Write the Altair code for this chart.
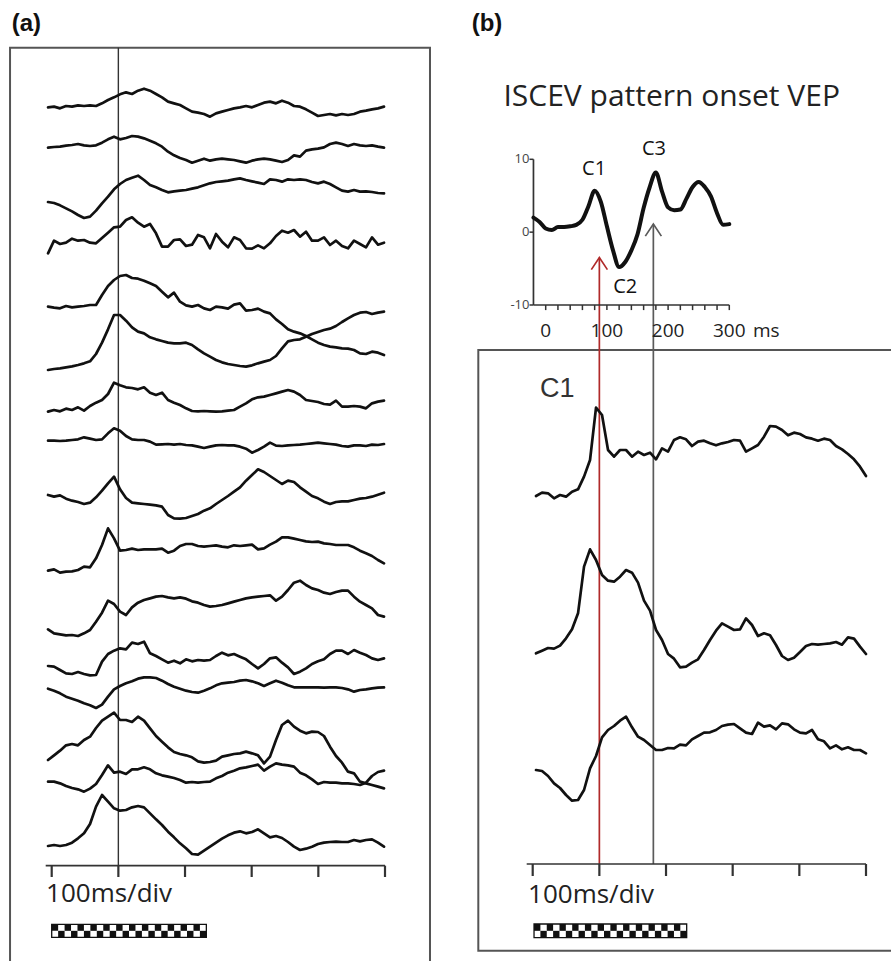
import altair as alt
import pandas as pd

W, H = 891, 961

# ---------------- panel (a): 16 single-session traces (a.u., +up) ----------------
A_TIME0, A_STEP = -5.5, 9.0          # ms, sampling grid of the traces
A_BASE = [321, 443, 605, 745, 920, 1110, 1235, 1322, 1485, 1712, 1888, 1995, 2065, 2285, 2345, 2540]
A1 = [-1, 1, -4, 3, 1, 5, 3, 5, 3, 11, 21, 29, 38, 44, 39, 49, 55, 49, 39, 29, 16, 11, 6, -4, -14, -17, -21, -29, -19, -14,
      -9, -4, -1, 3, -1, 6, 13, 16, 11, 19, 13, 3, 1, -7, -17, -27, -24, -21, -25, -21, -24, -21, -14, -11, -7, -4, 1]
A2 = [0, 2, 3, 6, 8, 11, 7, 5, 7, 15, 25, 33, 25, 29, 35, 33, 28, 21, 13, 3, -12, -23, -31, -37, -45, -39, -33, -39, -35, -33,
      -35, -37, -41, -45, -39, -35, -33, -35, -39, -43, -37, -23, -27, -9, -5, -3, 1, 11, 15, 11, 5, 11, 7, 5, 7, 3, 0]
A3 = [-1, -4, -11, -20, -29, -40, -49, -45, -27, -5, 15, 37, 53, 65, 72, 78, 65, 50, 43, 35, 28, 31, 33, 35, 39, 43, 49, 55, 59, 61,
      63, 67, 70, 65, 61, 57, 53, 67, 65, 60, 67, 65, 67, 65, 59, 55, 60, 53, 43, 33, 30, 35, 30, 31, 29, 26, 25]
A4 = [-15, 23, 13, 17, 29, 23, 25, 17, 15, 31, 47, 63, 65, 85, 93, 77, 65, 73, 45, 5, 5, 25, 27, 7, 11, 40, 33, 0, 43, 20,
      3, 33, 25, 0, -1, 9, 0, 15, 37, 53, 47, 55, 35, 50, 23, 23, 33, 10, 23, 7, 0, 23, 13, 3, 33, 11, 17]
A5 = [0, -3, -5, 2, -2, 0, 2, 5, 5, 35, 62, 80, 92, 95, 86, 84, 78, 70, 62, 45, 28, 42, 15, 4, 0, 5, -5, -10, 0, -2,
      -6, 6, 10, -12, -10, -6, -15, -20, -38, -52, -68, -75, -80, -88, -98, -108, -115, -120, -122, -125, -126, -130, -140, -142, -135, -138, -145]
A6 = [0, 3, 5, 8, 11, 15, 20, 26, 48, 82, 122, 165, 165, 148, 128, 115, 110, 98, 92, 87, 82, 80, 80, 82, 75, 62, 50, 40, 30, 23,
      18, 15, 12, 10, 14, 20, 25, 30, 42, 65, 86, 90, 92, 100, 108, 114, 120, 124, 132, 144, 155, 165, 172, 174, 168, 172, 175]
A7 = [0, 5, 1, 9, 5, 13, 3, 17, 27, 35, 53, 87, 79, 73, 71, 67, 73, 57, 50, 57, 35, 27, 20, 10, 2, 1, 2, 1, 0, 1,
      3, 5, 15, 25, 37, 43, 45, 50, 55, 60, 65, 60, 50, 35, 32, 29, 23, 21, 33, 15, 15, 17, 15, 10, 25, 30, 33]
A8 = [0, 0, -1, 0, 2, 4, 10, 6, 2, 4, 22, 37, 30, 14, 4, 2, 2, -3, -12, -11, -10, -12, -10, -13, -14, -18, -22, -18, -14, -13,
      -14, -14, -18, -24, -36, -28, -18, -6, -15, -16, -14, -13, -12, -10, -8, -6, -8, -10, -12, -16, -18, -14, -14, -16, -12, -13, -10]
A9 = [0, -5, -1, -11, -17, -21, -27, -23, -7, 13, 35, 55, 17, -9, -23, -25, -27, -29, -31, -35, -60, -70, -71, -69, -63, -57, -47, -40, -27, -15,
      -3, 10, 23, 43, 60, 77, 69, 57, 45, 33, 43, 39, 23, 10, -3, -10, -20, -27, -21, -19, -19, -15, -11, -9, -5, 1, 7]
A10 = [0, 4, -6, -3, -2, 2, 12, 10, 37, 77, 127, 97, 60, 62, 66, 62, 64, 64, 64, 66, 54, 60, 74, 80, 80, 74, 72, 74, 76, 72,
       70, 76, 74, 76, 78, 64, 67, 78, 87, 100, 100, 96, 92, 88, 86, 87, 82, 80, 77, 77, 77, 70, 60, 52, 44, 32, 22]
A11 = [0, -12, -15, -18, -17, -20, -12, -2, 23, 50, 86, 76, 53, 43, 66, 80, 88, 93, 98, 100, 96, 93, 96, 92, 84, 80, 73, 68, 70, 73,
       78, 83, 88, 93, 96, 98, 100, 102, 86, 98, 118, 140, 146, 133, 123, 118, 110, 106, 112, 116, 116, 98, 83, 73, 63, 43, 38]
A12 = [-3, -5, -15, -25, -27, -21, -27, -31, -30, 10, 33, 43, 50, 47, 67, 63, 70, 35, 27, 17, 7, 13, 5, 17, 11, 15, 13, 15, 27, 37,
       29, 33, 25, 17, 3, -10, 3, 20, 23, 7, -7, -27, -20, -10, 3, 11, 17, 33, 43, 43, 33, 45, 37, 30, 20, 15, 20]
A13 = [-1, -7, -15, -25, -31, -37, -45, -51, -59, -49, -25, -3, 7, 15, 21, 29, 33, 33, 31, 23, 13, 5, -1, -7, -11, -13, -7, 0, 9, 15,
       17, 19, 23, 25, 21, 15, 7, 15, 23, 17, 9, 3, 3, 3, 3, 3, 2, 3, 3, 1, -3, -10, -5, -3, 0, 2, 3]
A14 = [5, 19, 33, 49, 53, 49, 65, 75, 101, 123, 135, 147, 125, 125, 119, 135, 123, 100, 77, 60, 43, 29, 23, 19, 13, 1, -3, -1, 3, 15,
       19, 23, 25, 30, 25, 19, -5, 15, 65, 110, 123, 105, 93, 85, 90, 89, 77, 45, 17, -3, -30, -35, -60, -65, -70, -75, -80]
A15 = [0, 0, -5, -13, -19, -23, -30, -21, -7, 20, 49, 27, 30, 23, 37, 37, 43, 37, 25, 19, 15, 11, 5, -3, -1, -3, -1, 0, 10, 17,
       27, 33, 40, 43, 47, 51, 33, 45, 55, 51, 49, 45, 27, 19, 7, -7, -1, -3, -3, -5, -5, -7, -10, -3, 17, 29, 33]
A16 = [2, 5, 2, 5, 12, 25, 40, 68, 120, 155, 135, 115, 108, 110, 118, 122, 118, 100, 82, 65, 45, 28, 10, -5, -22, -24, -12, 0, 12, 24,
       34, 42, 46, 40, 44, 52, 40, 28, 32, 26, 14, 0, -10, -6, 0, 8, 12, 14, 15, 14, 14, 20, 16, 20, 22, 12, 0]
A_TRACES = [A1, A2, A3, A4, A5, A6, A7, A8, A9, A10, A11, A12, A13, A14, A15, A16]

# ---------------- panel (b): 3 traces ----------------
B_TIME0, B_STEP = 5.0, 9.0
B_BASE = [1488, 1960, 2310]
B1 = [0, 10, 8, -7, 3, -2, 13, 20, 58, 108, 265, 243, 138, 118, 138, 138, 118, 133, 123, 130, 110, 143, 133, 168, 176, 170, 150, 163, 166, 158,
      152, 158, 162, 168, 166, 133, 143, 153, 178, 210, 208, 198, 182, 190, 186, 176, 172, 166, 172, 168, 150, 140, 126, 110, 88, 60]
B2 = [0, 8, 16, 14, 23, 45, 72, 120, 260, 312, 280, 235, 218, 215, 230, 250, 242, 212, 158, 128, 70, 40, -2, -16, -42, -40, -28, -18, 10, 40,
      68, 90, 80, 70, 72, 105, 85, 52, 60, 54, 25, -8, -20, -13, 4, 22, 28, 26, 28, 30, 34, 26, 48, 44, 20, -2]
B3 = [0, -3, -18, -40, -54, -75, -92, -90, -60, 5, 42, 98, 120, 132, 148, 160, 128, 100, 90, 75, 60, 60, 66, 65, 76, 74, 92, 102, 112, 113,
      120, 132, 136, 138, 125, 112, 108, 142, 130, 134, 122, 140, 137, 122, 112, 110, 120, 92, 86, 65, 74, 62, 68, 60, 60, 50]
B_TRACES = [B1, B2, B3]

# ---------------- inset: ISCEV pattern onset VEP (uV vs ms) ----------------
INSET_T = [-20, -10, 0, 10, 20, 30, 40, 50, 60, 70, 80, 90, 100, 110, 120, 130, 140, 150, 160, 170, 180,
           190, 200, 210, 220, 230, 240, 250, 260, 270, 280, 290, 300]
INSET_UV = [2.0, 1.4, 0.5, 0.3, 0.7, 0.7, 0.8, 1.0, 1.7, 3.6, 5.7, 4.2, 0.8, -2.5, -4.8, -4.1, -2.5, -0.3, 3.3, 6.2, 8.2,
            5.6, 3.4, 3.0, 3.1, 4.6, 6.2, 6.9, 6.2, 4.9, 2.6, 1.0, 1.1]
INSET_XLABELS = [0, 100, 200, 300]
INSET_XMINOR = [0, 20, 40, 60, 80, 100, 120, 140, 160, 180, 200, 220, 240, 260, 280, 300]
INSET_YTICKS = [10, 0, -10]
PEAK_NAMES = ["C1", "C2", "C3"]
PEAK_LABEL_MS = [79, 130, 177]
PEAK_LABEL_UV = [7.9, -8.4, 10.6]

DIV_TICKS = [0, 100, 200, 300, 400, 500]     # 100 ms/div
MARK_MS = [100, 181]                          # C1 and C3 latency markers
MARK_TIP_UV = [-3.5, 1.1]
MARK_COLORS = ["#b02a2a", "#5a5a5a"]
CHECK_COLS, CHECK_ROWS = 24, 2


# ---------------- layout: map each panel's data range onto the page ----------------
def span(v0, p0, v1, p1, total):
    k = (p1 - p0) / (v1 - v0)
    return sorted([v0 - p0 / k, v0 + (total - p0) / k])


def sc(dom):
    return alt.Scale(domain=dom, nice=False, zero=False)


XA = sc(span(0, 51.7, 500, 385, W))     # panel (a) ms
XB = sc(span(0, 532.7, 500, 866, W))    # panel (b) ms
XI = sc(span(0, 545.7, 300, 729.3, W))  # inset ms
YT = sc(span(0, 0, -3, 1, H))           # trace units (a.u.)
YI = sc(span(10, 159.3, -10, 305, H))   # inset uV


def t_to_uv(v):
    # express a trace-unit level in inset units (shared page)
    px = -v / 3.0
    return 10 - (px - 159.3) / 7.285


def X(f, s):
    return alt.X(f, type="quantitative", scale=s, axis=None)


def Y(f, s):
    return alt.Y(f, type="quantitative", scale=s, axis=None)


layers = []


def frame(xs, ys, x0, x1, y0, y1, color="#555", w=2.0):
    df = pd.DataFrame([{"x0": x0, "x1": x1, "y0": y0, "y1": y1}])
    return alt.Chart(df).mark_rect(fillOpacity=0, stroke=color, strokeWidth=w).encode(
        x=X("x0", xs), x2="x1", y=Y("y0", ys), y2="y1")


def traces(xs, ys, t0, dt, bases, series, width=2.7):
    rows = []
    for k, (b, amps) in enumerate(zip(bases, series)):
        for i, a in enumerate(amps):
            rows.append({"trace": k, "t": t0 + dt * i, "v": a - b})
    return alt.Chart(pd.DataFrame(rows)).mark_line(
        color="#111", strokeWidth=width, strokeJoin="round", strokeCap="round").encode(
        x=X("t", xs), y=Y("v", ys), detail="trace:N")


def vrule(xs, ys, t, y0, y1, color, w):
    df = pd.DataFrame([{"t": t, "y0": y0, "y1": y1}])
    return alt.Chart(df).mark_rule(color=color, strokeWidth=w).encode(
        x=X("t", xs), y=Y("y0", ys), y2="y1")


def hrule(xs, ys, t0, t1, y, color, w):
    df = pd.DataFrame([{"t0": t0, "t1": t1, "y": y}])
    return alt.Chart(df).mark_rule(color=color, strokeWidth=w).encode(
        x=X("t0", xs), x2="t1", y=Y("y", ys))


def ticks(xs, ys, ts, y0, y1, color, w):
    df = pd.DataFrame({"t": ts, "y0": [y0] * len(ts), "y1": [y1] * len(ts)})
    return alt.Chart(df).mark_rule(color=color, strokeWidth=w).encode(
        x=X("t", xs), y=Y("y0", ys), y2="y1")


def text(xs, ys, t, y, s, size, font="Open Sans", align="left", baseline="alphabetic",
         color="#222", weight="normal"):
    df = pd.DataFrame([{"t": t, "y": y, "s": s}])
    return alt.Chart(df).mark_text(font=font, fontSize=size, align=align, baseline=baseline,
                                   color=color, fontWeight=weight).encode(
        x=X("t", xs), y=Y("y", ys), text="s:N")


def checker(xs, ys, t0, t1, ytop, ybot):
    cw = (t1 - t0) / CHECK_COLS
    rh = (ytop - ybot) / CHECK_ROWS
    rows = []
    for r in range(CHECK_ROWS):
        for c in range(CHECK_COLS):
            if (r + c) % 2 == 0:
                rows.append({"x0": t0 + c * cw, "x1": t0 + (c + 1) * cw,
                             "y0": ytop - r * rh, "y1": ytop - (r + 1) * rh})
    cells = alt.Chart(pd.DataFrame(rows)).mark_rect(color="#111").encode(
        x=X("x0", xs), x2="x1", y=Y("y0", ys), y2="y1")
    border = frame(xs, ys, t0, t1, ytop, ybot, color="#111", w=1.3)
    return [cells, border]


# ----- panel (a)
layers.append(frame(XA, YT, -62.5, 567.5, -143, -2950))
layers.append(vrule(XA, YT, 100, -143, -2597, "#333", 1.4))
layers.append(traces(XA, YT, A_TIME0, A_STEP, A_BASE, A_TRACES))
layers.append(hrule(XA, YT, -9, 500, -2597, "#333", 1.7))
layers.append(ticks(XA, YT, DIV_TICKS, -2597, -2631, "#333", 2.2))
layers.append(text(XA, YT, -8.5, -2706, "100ms/div", 26))
layers += checker(XA, YT, 0, 232, -2773, -2812)
layers.append(text(XA, YT, -60, -92, "(a)", 24, font="Liberation Sans", weight="bold", color="#111"))

# ----- panel (b)
layers.append(frame(XB, YT, -81.6, 600, -1050, -2852))
for t, tip, col in zip(MARK_MS, MARK_TIP_UV, MARK_COLORS):
    layers.append(vrule(XB, YI, t, tip, t_to_uv(-2592), col, 1.7))
    adf = pd.DataFrame([{"t": t, "y": tip}])
    layers.append(alt.Chart(adf).mark_point(
        shape="M-0.67,1L0,0L0.67,1", filled=False, size=576, strokeWidth=1.7,
        color=col, opacity=1).encode(x=X("t", XB), y=Y("y", YI)))
layers.append(traces(XB, YT, B_TIME0, B_STEP, B_BASE, B_TRACES))
layers.append(hrule(XB, YT, -9, 500, -2592, "#333", 1.7))
layers.append(ticks(XB, YT, DIV_TICKS, -2592, -2628, "#333", 2.2))
layers.append(text(XB, YT, -7, -2709, "100ms/div", 26))
layers += checker(XB, YT, 2, 231, -2772, -2813)
layers.append(text(XB, YT, 11, -1190, "C1", 27, font="Liberation Sans", color="#333"))
layers.append(text(XB, YT, -91.5, -92, "(b)", 24, font="Liberation Sans", weight="bold", color="#111"))

# ----- inset
layers.append(text(XI, YI, 205.9, 17.3, "ISCEV pattern onset VEP", 30, align="center"))
layers.append(vrule(XI, YI, -20, 10, -10, "#333", 1.7))
layers.append(hrule(XI, YI, -20, 300, -10, "#333", 1.7))
layers.append(ticks(XI, YI, INSET_XMINOR, -10, -10.7, "#333", 1.5))
ydf = pd.DataFrame({"y": INSET_YTICKS, "t0": [-26.5] * 3, "t1": [-20] * 3,
                    "s": [str(v) for v in INSET_YTICKS]})
layers.append(alt.Chart(ydf).mark_rule(color="#333", strokeWidth=1.5).encode(
    x=X("t0", XI), x2="t1", y=Y("y", YI)))
layers.append(alt.Chart(ydf).mark_text(font="Open Sans", fontSize=13, align="right",
                                       baseline="middle", color="#444").encode(
    x=X("t0", XI), y=Y("y", YI), text="s:N"))
xdf = pd.DataFrame({"t": INSET_XLABELS, "y": [-14.4] * 4, "s": [str(v) for v in INSET_XLABELS]})
layers.append(alt.Chart(xdf).mark_text(font="Open Sans", fontSize=19, align="center",
                                       baseline="alphabetic", color="#222").encode(
    x=X("t", XI), y=Y("y", YI), text="s:N"))
layers.append(text(XI, YI, 338.7, -14.4, "ms", 19))
cdf = pd.DataFrame({"t": INSET_T, "v": INSET_UV})
layers.append(alt.Chart(cdf).mark_line(color="#111", strokeWidth=4.0, interpolate="monotone",
                                       strokeJoin="round", strokeCap="round").encode(
    x=X("t", XI), y=Y("v", YI)))
pdf = pd.DataFrame({"t": PEAK_LABEL_MS, "y": PEAK_LABEL_UV, "s": PEAK_NAMES})
layers.append(alt.Chart(pdf).mark_text(font="Open Sans", fontSize=20, align="center",
                                       baseline="alphabetic", color="#111").encode(
    x=X("t", XI), y=Y("y", YI), text="s:N"))

chart = alt.layer(*layers).resolve_scale(x="independent", y="independent").properties(
    width=W, height=H, padding=0, autosize=alt.AutoSizeParams(type="none"),
    background="white").configure_view(stroke=None)

chart.save("out.html", embed_options={"renderer": "svg", "actions": False})
